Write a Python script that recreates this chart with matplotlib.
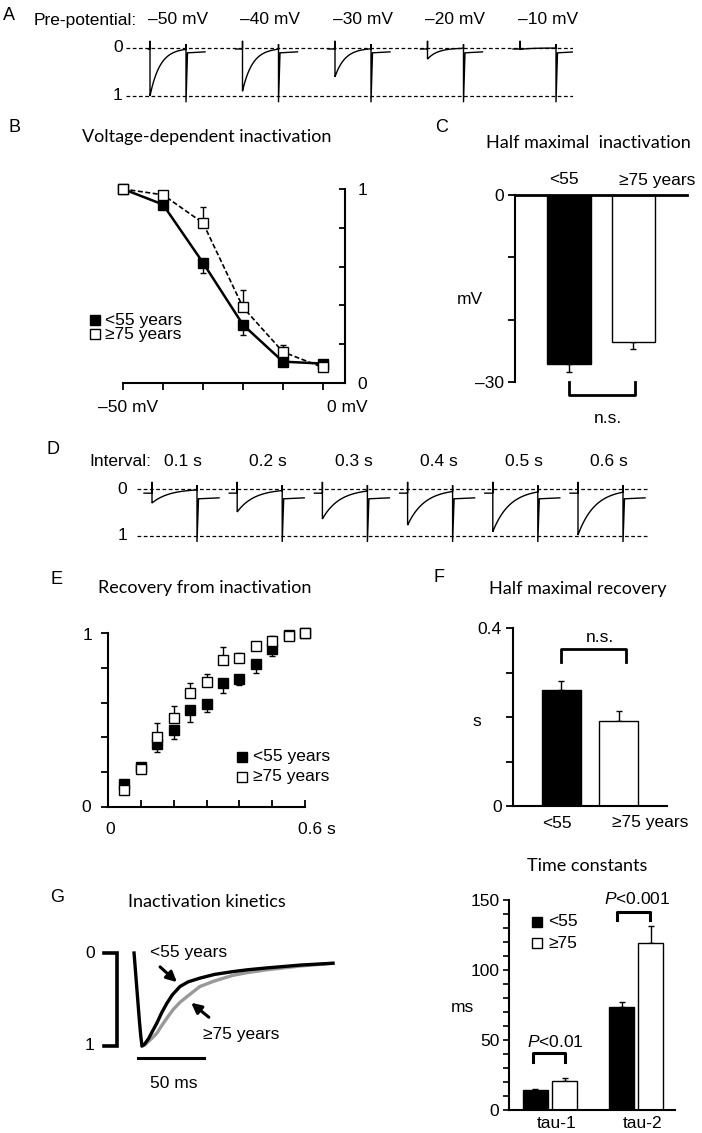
import numpy as np
import matplotlib
matplotlib.use('Agg')
import matplotlib.pyplot as plt
from matplotlib.lines import Line2D

# ---------------- DATA ----------------
# Panel A: example traces, peak of conditioning response at each pre-potential
prepot_labels = ['–50 mV', '–40 mV', '–30 mV', '–20 mV', '–10 mV']
prepot_depth = [1.0, 0.90, 0.60, 0.23, 0.03]

# Panel B: voltage-dependent inactivation
volt = [-50, -40, -30, -20, -10, 0]
inact_young = [1.0, 0.92, 0.62, 0.30, 0.11, 0.10]
inact_young_err = [0.0, 0.02, 0.055, 0.055, 0.015, 0.01]
inact_old = [1.0, 0.97, 0.825, 0.39, 0.16, 0.08]
inact_old_err = [0.0, 0.01, 0.08, 0.09, 0.035, 0.01]

# Panel C: half maximal inactivation (mV)
half_inact = [-27.1, -23.6]
half_inact_err = [1.3, 1.1]

# Panel D: example traces at each interval
interval_labels = ['0.1 s', '0.2 s', '0.3 s', '0.4 s', '0.5 s', '0.6 s']
interval_depth = [0.30, 0.49, 0.64, 0.77, 0.91, 0.98]

# Panel E: recovery from inactivation
rec_t = [0.05, 0.10, 0.15, 0.20, 0.25, 0.30, 0.35, 0.40, 0.45, 0.50, 0.55, 0.60]
rec_young = [0.13, 0.23, 0.36, 0.44, 0.56, 0.59, 0.71, 0.735, 0.82, 0.91, 0.99, 1.0]
rec_young_err = [0.01, 0.02, 0.045, 0.05, 0.07, 0.045, 0.057, 0.035, 0.05, 0.04, 0.01, 0.0]
rec_old = [0.10, 0.22, 0.40, 0.51, 0.655, 0.72, 0.845, 0.856, 0.925, 0.955, 0.98, 1.0]
rec_old_err = [0.01, 0.02, 0.08, 0.07, 0.057, 0.046, 0.075, 0.03, 0.02, 0.03, 0.01, 0.0]

# Panel F: half maximal recovery (s)
half_rec = [0.261, 0.191]
half_rec_err = [0.02, 0.022]

# Panel G: normalized inactivation kinetics traces (ms, normalized current)
G_t_young = [-6, -5, -4, -3, -2, -1, 0, 2, 5, 8, 11.4, 15, 18.9, 23, 28.8, 35, 43.9, 55, 68.9, 80, 94.7, 119.7, 144.7]
G_young = [0.0, 0.18, 0.36, 0.54, 0.72, 0.88, 1.0, 0.98, 0.92, 0.84, 0.75, 0.64, 0.54, 0.45, 0.36, 0.31, 0.27, 0.23, 0.20, 0.18, 0.16, 0.13, 0.11]
G_t_old = [0, 2, 5, 8, 11.4, 15, 18.9, 23.5, 28.8, 34, 43.9, 55, 68.9, 80, 94.7, 119.7, 144.7]
G_old = [1.0, 0.99, 0.95, 0.91, 0.86, 0.78, 0.70, 0.61, 0.53, 0.47, 0.36, 0.30, 0.24, 0.21, 0.18, 0.14, 0.11]

# Panel H: time constants (ms)
tau_labels = ['tau-1', 'tau-2']
tau_young = [14.3, 73.6]
tau_young_err = [1.0, 3.6]
tau_old = [20.7, 119.3]
tau_old_err = [2.0, 12.0]

# ---------------- STYLE / LAYOUT ----------------
ARIAL = ['Liberation Sans', 'DejaVu Sans']
TITLE = ['Lato', 'DejaVu Sans']
plt.rcParams['font.family'] = ARIAL
plt.rcParams['mathtext.fontset'] = 'custom'
plt.rcParams['mathtext.it'] = 'Liberation Sans:italic'
plt.rcParams['mathtext.rm'] = 'Liberation Sans'
FS = 12.5
TFS = 13

W, H = 702, 1133
fig = plt.figure(figsize=(W / 100, H / 100), dpi=100)


def add_ax(l, t, r, b):
    return fig.add_axes([l / W, 1 - b / H, (r - l) / W, (b - t) / H])


def ftext(x, y, s, size=FS, ha='center', va='center', family=None, **kw):
    fig.text(x / W, 1 - y / H, s, fontsize=size, ha=ha, va=va,
             family=family if family is not None else ARIAL, **kw)


def fmarker(x, y, filled, size=7):
    fig.add_artist(Line2D([x / W], [1 - y / H], transform=fig.transFigure, marker='s',
                          markersize=size, markerfacecolor='black' if filled else 'white',
                          markeredgecolor='black', markeredgewidth=1, linestyle='none'))


def draw_trace(ax, t0, depth, gap, tail, tau, pre, base_pre, base_after, lw=1.0):
    td = np.linspace(0, gap, 80)
    vd = depth * np.exp(-td / tau)
    xs = [t0 - pre, t0, t0, t0] + list(t0 + td) + [t0 + gap, t0 + gap, t0 + gap + 1.5, t0 + gap + tail]
    ys = [base_pre, base_pre, -0.15, depth] + list(vd) + [-0.08, 1.13, base_after + 0.02, base_after]
    ax.plot(xs, ys, color='black', lw=lw, solid_joinstyle='miter')


DASH = (0, (3, 2))

# ---------------- Panel A ----------------
ftext(9, 16, 'A', size=13)
ftext(34, 20, 'Pre-potential:', ha='left')
axA = add_ax(126, 40, 573, 110)
axA.set_xlim(0, 447)
axA.set_ylim(1.29, -0.167)
axA.axis('off')
for yv in [0, 1]:
    axA.axhline(yv, color='black', lw=0.9, ls=DASH)
A_start, A_step = 24, 92.5
for i, (lab, d) in enumerate(zip(prepot_labels, prepot_depth)):
    t0 = A_start + i * A_step
    draw_trace(axA, t0, d, 36, 19, 10, 7 if i else 2, 0.02, 0.08)
    ftext(126 + t0 + 28, 20, lab)
ftext(118, 48, '0')
ftext(118, 96, '1')

# ---------------- Panel B ----------------
ftext(15, 127, 'B', size=13)
ftext(207, 137, 'Voltage-dependent inactivation', size=TFS, family=TITLE)
axB = add_ax(123, 189, 345, 383)
axB.set_xlim(-50, 5.5)
axB.set_ylim(0, 1)
for s in ['left', 'top']:
    axB.spines[s].set_visible(False)
for s in ['bottom', 'right']:
    axB.spines[s].set_linewidth(1.5)
axB.yaxis.tick_right()
axB.set_xticks(volt)
axB.set_xticklabels([])
axB.tick_params(axis='x', direction='out', length=5, width=1.3)
axB.set_yticks([0, 0.2, 0.4, 0.6, 0.8, 1.0])
axB.set_yticklabels(['0', '', '', '', '', '1'])
axB.tick_params(axis='y', direction='in', length=4, width=1.3, labelsize=FS, pad=9)
zeros6 = [0] * len(volt)
axB.errorbar(volt, inact_young, yerr=[inact_young_err, zeros6], fmt='none', ecolor='black',
             elinewidth=1, capsize=2.5, clip_on=False, zorder=2)
axB.errorbar(volt, inact_old, yerr=[zeros6, inact_old_err], fmt='none', ecolor='black',
             elinewidth=1, capsize=2.5, clip_on=False, zorder=2)
axB.plot(volt, inact_young, color='black', lw=1.8, marker='s', markersize=7.5,
         markerfacecolor='black', markeredgecolor='black', clip_on=False, zorder=3)
axB.plot(volt, inact_old, color='black', lw=1.2, ls=(0, (3, 1.5)), marker='s', markersize=7.5,
         markerfacecolor='white', markeredgecolor='black', clip_on=False, zorder=4)
ftext(128, 408, '–50 mV')
ftext(347, 408, '0 mV')
fmarker(95, 320, True, 6.5)
ftext(105, 320, '<55 years', ha='left')
fmarker(95, 334, False, 6.5)
ftext(105, 334, '≥75 years', ha='left')

# ---------------- Panel C ----------------
ftext(442, 128, 'C', size=13)
ftext(588, 143, 'Half maximal  inactivation', size=TFS, family=TITLE)
axC = add_ax(515, 195, 687, 382)
axC.set_xlim(-0.837, 1.83)
axC.set_ylim(-30, 0)
for s in ['right', 'bottom']:
    axC.spines[s].set_visible(False)
axC.spines['left'].set_linewidth(1.5)
axC.spines['top'].set_linewidth(2)
axC.set_xticks([])
axC.set_yticks([-30, -20, -10, 0])
axC.set_yticklabels(['–30', '', '', '0'])
axC.tick_params(axis='y', direction='out', length=5, width=1.3, labelsize=FS, pad=3)
axC.bar([0, 1], half_inact, width=0.68, color=['black', 'white'], edgecolor='black', linewidth=1, zorder=2)
axC.errorbar([0, 1], half_inact, yerr=[half_inact_err, [0, 0]], fmt='none', ecolor='black',
             elinewidth=1, capsize=2.5, zorder=1)
axC.plot([0, 0, 1.02, 1.02], [-30.05, -32.1, -32.1, -30.05], color='black', lw=2, clip_on=False)
ftext(608, 418, 'n.s.')
ftext(470, 300, 'mV')
ftext(564, 180, '<55')
ftext(657, 180, '≥75 years')

# ---------------- Panel D ----------------
ftext(53, 450, 'D', size=13)
ftext(89, 462, 'Interval:', ha='left')
axD = add_ax(137, 480, 648, 550)
axD.set_xlim(0, 511)
axD.set_ylim(1.30, -0.19)
axD.axis('off')
for yv in [0, 1]:
    axD.axhline(yv, color='black', lw=0.9, ls=DASH)
D_start, D_step = 15, 85.2
for i, (lab, d) in enumerate(zip(interval_labels, interval_depth)):
    t0 = D_start + i * D_step
    draw_trace(axD, t0, d, 45, 22, 17, 8, 0.09, 0.19)
    ftext(137 + t0 + 31, 462, lab)
ftext(122, 489, '0')
ftext(122, 535, '1')

# ---------------- Panel E ----------------
ftext(57, 579, 'E', size=13)
ftext(205, 588, 'Recovery from inactivation', size=TFS, family=TITLE)
axE = add_ax(108, 633, 305, 807)
axE.set_xlim(0, 0.6)
axE.set_ylim(0, 1)
for s in ['right', 'top']:
    axE.spines[s].set_visible(False)
for s in ['left', 'bottom']:
    axE.spines[s].set_linewidth(1.5)
axE.set_xticks([0, 0.1, 0.2, 0.3, 0.4, 0.5, 0.6])
axE.set_xticklabels([])
axE.set_yticks([0, 0.2, 0.4, 0.6, 0.8, 1.0])
axE.set_yticklabels([])
axE.tick_params(axis='x', direction='in', length=5, width=1.3)
axE.tick_params(axis='y', direction='out', length=5, width=1.3)
z12 = [0] * len(rec_t)
axE.errorbar(rec_t, rec_young, yerr=[rec_young_err, z12], fmt='none', ecolor='black',
             elinewidth=1, capsize=2.2, zorder=2, clip_on=False)
axE.errorbar(rec_t, rec_old, yerr=[z12, rec_old_err], fmt='none', ecolor='black',
             elinewidth=1, capsize=2.2, zorder=2, clip_on=False)
axE.plot(rec_t, rec_young, ls='none', marker='s', markersize=6.8, markerfacecolor='black',
         markeredgecolor='black', zorder=3, clip_on=False)
axE.plot(rec_t, rec_old, ls='none', marker='s', markersize=6.8, markerfacecolor='white',
         markeredgecolor='black', markeredgewidth=1, zorder=4, clip_on=False)
ftext(87, 635, '1')
ftext(86, 808, '0')
ftext(110, 830, '0')
ftext(317, 830, '0.6 s')
fmarker(242, 757, True, 7)
ftext(253, 757, '<55 years', ha='left')
fmarker(242, 777, False, 7)
ftext(253, 777, '≥75 years', ha='left')

# ---------------- Panel F ----------------
ftext(439, 578, 'F', size=13)
ftext(578, 589, 'Half maximal recovery', size=TFS, family=TITLE)
axF = add_ax(513, 628, 667, 806)
axF.set_xlim(-0.85, 1.85)
axF.set_ylim(0, 0.4)
for s in ['right', 'top']:
    axF.spines[s].set_visible(False)
for s in ['left', 'bottom']:
    axF.spines[s].set_linewidth(1.5)
axF.set_xticks([])
axF.set_yticks([0, 0.1, 0.2, 0.3, 0.4])
axF.set_yticklabels(['0', '', '', '', '0.4'])
axF.tick_params(axis='y', direction='out', length=5, width=1.3, labelsize=FS, pad=3)
axF.bar([0, 1], half_rec, width=0.68, color=['black', 'white'], edgecolor='black', linewidth=1, zorder=2)
axF.errorbar([0, 1], half_rec, yerr=[[0, 0], half_rec_err], fmt='none', ecolor='black',
             elinewidth=1, capsize=2.5, zorder=1)
axF.plot([0, 0, 1.13, 1.13], [0.324, 0.353, 0.353, 0.324], color='black', lw=2, clip_on=False)
ftext(600, 637, 'n.s.')
ftext(477, 722, 's')
ftext(557, 823, '<55')
ftext(650, 823, '≥75 years')

# ---------------- Panel G ----------------
ftext(57, 897, 'G', size=13)
ftext(207, 902, 'Inactivation kinetics', size=TFS, family=TITLE)
axG = add_ax(60, 940, 350, 1070)
axG.set_xlim(-62.1, 157.6)
axG.set_ylim(1.258, -0.14)
axG.axis('off')
axG.plot(G_t_old, G_old, color='#999999', lw=2.4, zorder=2)
axG.plot(G_t_young, G_young, color='black', lw=2.4, zorder=3)
axG.plot([-28.8, -18.9, -18.9, -28.8], [0, 0, 1, 1], color='black', lw=2.6, solid_joinstyle='miter')
axG.plot([-3, 47], [1.13, 1.13], color='black', lw=2.2)
ftext(90, 953, '0')
ftext(90, 1046, '1')
ftext(174, 1083, '50 ms')
ftext(189, 953, '<55 years')
ftext(241, 1035, '≥75 years')
axG.annotate('', xy=(179, H - 984), xytext=(158, H - 965), xycoords='figure pixels',
             textcoords='figure pixels',
             arrowprops=dict(arrowstyle='-|>', lw=2.2, color='black', mutation_scale=15))
axG.annotate('', xy=(189, H - 1001), xytext=(211, H - 1019), xycoords='figure pixels',
             textcoords='figure pixels',
             arrowprops=dict(arrowstyle='-|>', lw=2.2, color='black', mutation_scale=15))

# ---------------- Panel H (time constants) ----------------
ftext(587, 866, 'Time constants', size=TFS, family=TITLE)
axH = add_ax(509, 900, 675, 1110)
axH.set_xlim(-0.477, 1.453)
axH.set_ylim(0, 150)
for s in ['right', 'top']:
    axH.spines[s].set_visible(False)
for s in ['left', 'bottom']:
    axH.spines[s].set_linewidth(1.5)
xg = np.arange(len(tau_labels))
off, bw = 0.169, 0.297
axH.bar(xg - off, tau_young, width=bw, color='black', edgecolor='black', linewidth=1, zorder=2)
axH.bar(xg + off, tau_old, width=bw, color='white', edgecolor='black', linewidth=1, zorder=2)
axH.errorbar(xg - off, tau_young, yerr=[[0, 0], tau_young_err], fmt='none', ecolor='black',
             elinewidth=1, capsize=2.2, zorder=1)
axH.errorbar(xg + off, tau_old, yerr=[[0, 0], tau_old_err], fmt='none', ecolor='black',
             elinewidth=1, capsize=2.2, zorder=1)
axH.set_xticks([])
axH.set_yticks([0, 50, 100, 150])
axH.set_yticks(np.arange(0, 151, 10), minor=True)
axH.tick_params(axis='y', which='both', direction='out', length=4, width=1.2, labelsize=FS, pad=3)
for i, lab in enumerate(tau_labels):
    axH.text(xg[i] + 0.08, -10, lab, ha='center', va='center', fontsize=FS)
axH.plot([-0.198, -0.198, 0.174, 0.174], [34.3, 40.7, 40.7, 34.3], color='black', lw=2.2, clip_on=False)
axH.plot([0.779, 0.779, 1.163, 1.163], [135.7, 141.4, 141.4, 135.7], color='black', lw=2.2, clip_on=False)
ftext(555, 1042, '$\\it{P}$<0.01')
ftext(637, 899, '$\\it{P}$<0.001')
ftext(462, 1008, 'ms')
fmarker(537, 922, True, 7.5)
ftext(548, 922, '<55', ha='left')
fmarker(537, 943, False, 7.5)
ftext(548, 943, '≥75', ha='left')

fig.savefig('out.png', dpi=100)
